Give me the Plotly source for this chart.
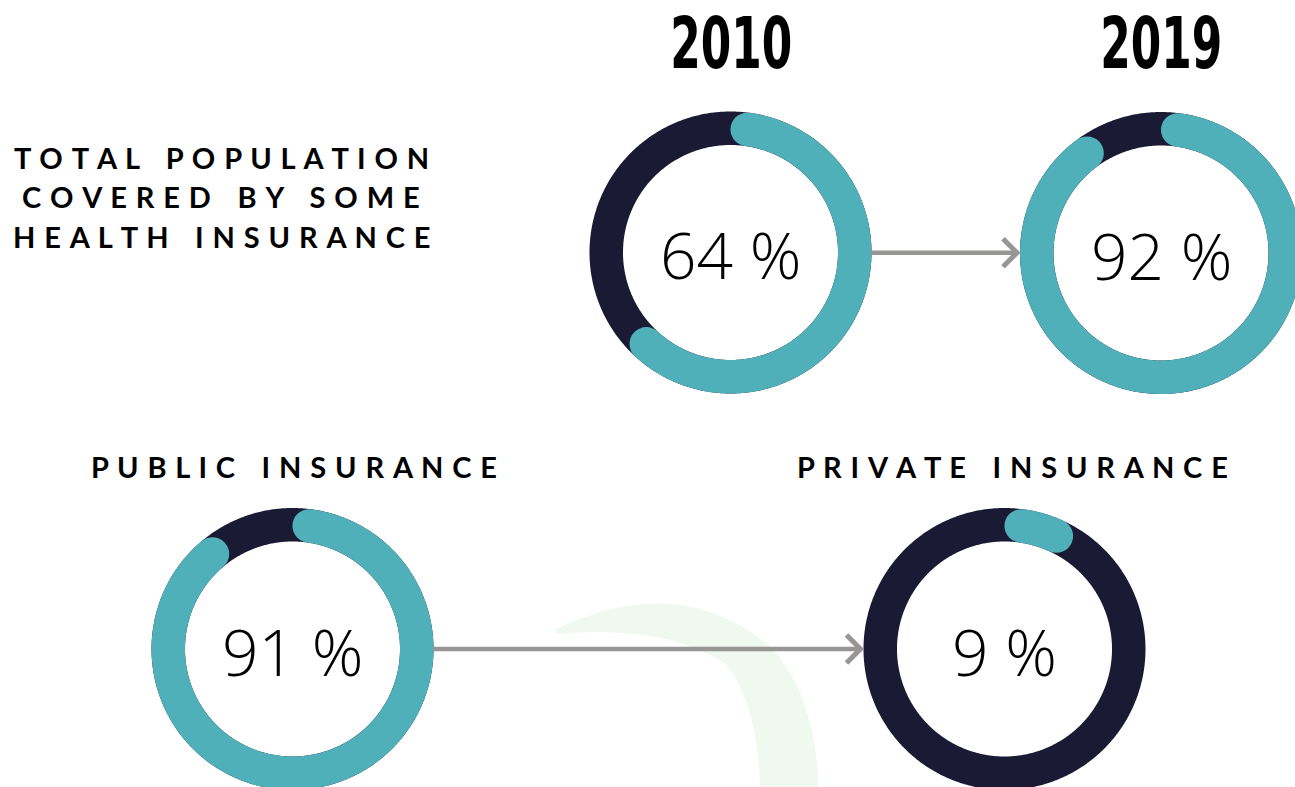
import numpy as np
import plotly.graph_objects as go

# ---------------- data ----------------
donut_names = ["Total 2010", "Total 2019", "Public insurance", "Private insurance"]
percent_values = [64, 92, 91, 9]
year_labels = ["2010", "2019"]
total_title_lines = ["TOTAL POPULATION", "COVERED BY SOME", "HEALTH INSURANCE"]
bottom_titles = ["PUBLIC INSURANCE", "PRIVATE INSURANCE"]

# ---------------- style / layout ----------------
TEAL = "#4fb0b9"
NAVY = "#1a1a35"
GRAY = "#989595"
WM_GREEN = "#eff9ef"
W_PX, H_PX = 1295, 787
centers = [(730.5, 252.5), (1161.0, 253.0), (292.5, 649.0), (1004.5, 649.0)]
R_OUT, R_IN = 141.0, 107.5
R_MID = (R_OUT + R_IN) / 2
RING_W = R_OUT - R_IN
YEAR_TEXT_WIDTH = 122  # condensed look of the headline font

def spaced(text):
    unit = "\u00a0\u200a"
    words = text.split(" ")
    return (unit * 3).join(unit.join(list(w)) for w in words)

fig = go.Figure()

# watermark brush stroke (decoration)
fig.add_shape(type="path",
              path="M 556,629 Q 680,570 772,648 Q 817,700 818,787 L 760,787 "
                   "Q 758,705 726,664 Q 664,624 556,634 Z",
              fillcolor=WM_GREEN, line_width=0, layer="below")

for (cx, cy), p, name in zip(centers, percent_values, donut_names):
    t = np.linspace(0, 2 * np.pi, 721)
    fig.add_trace(go.Scatter(x=cx + R_MID * np.sin(t), y=cy - R_MID * np.cos(t),
                             mode="lines", line=dict(color=NAVY, width=RING_W, simplify=False),
                             hoverinfo="skip", name=name))
    cap = (RING_W / 2) / R_MID
    a = np.linspace(cap, 2 * np.pi * p / 100 - cap, 400)
    xs = cx + R_MID * np.sin(a)
    ys = cy - R_MID * np.cos(a)
    fig.add_trace(go.Scatter(x=xs, y=ys, mode="lines",
                             line=dict(color=TEAL, width=RING_W, simplify=False),
                             hoverinfo="skip", name=name))
    fig.add_trace(go.Scatter(x=[xs[0], xs[-1]], y=[ys[0], ys[-1]], mode="markers",
                             marker=dict(size=RING_W, color=TEAL, line_width=0),
                             hoverinfo="skip", cliponaxis=True, name=name))
    fig.add_annotation(x=cx, y=cy + 2, text=f"{p} %", showarrow=False,
                       xanchor="center", yanchor="middle",
                       font=dict(family="Open Sans", size=64, color="#000000", weight=300))

# arrows
def arrow(c1, c2):
    x0 = c1[0] + R_OUT
    x1 = c2[0] - R_OUT - 3
    y = (c1[1] + c2[1]) / 2
    fig.add_trace(go.Scatter(x=[x0, x1 - 2], y=[y, y], mode="lines",
                             line=dict(color=GRAY, width=4.5), hoverinfo="skip"))
    fig.add_trace(go.Scatter(x=[x1 - 14, x1, x1 - 14], y=[y - 14, y, y + 14], mode="lines",
                             line=dict(color=GRAY, width=5), hoverinfo="skip"))

arrow(centers[0], centers[1])
arrow(centers[2], centers[3])

# year headings
for (cx, _), yr in zip(centers[:2], year_labels):
    fig.add_annotation(x=cx, y=43, text=f"<b>{yr}</b>", showarrow=False,
                       xanchor="center", yanchor="middle",
                       font=dict(family="'DejaVu Sans', sans-serif", size=72, color="#000000"))

# left block title
for i, line in enumerate(total_title_lines):
    fig.add_annotation(x=221, y=157 + i * 39.5, text=spaced(line), showarrow=False,
                       xanchor="center", yanchor="middle",
                       font=dict(family="Lato", size=29, color="#000000", weight=700))

# bottom titles
for title, xc in zip(bottom_titles, [294, 1012]):
    fig.add_annotation(x=xc, y=466, text=spaced(title), showarrow=False,
                       xanchor="center", yanchor="middle",
                       font=dict(family="Lato", size=29, color="#000000", weight=700))

fig.update_layout(
    width=W_PX, height=H_PX,
    margin=dict(l=0, r=0, t=0, b=0),
    paper_bgcolor="white", plot_bgcolor="white",
    showlegend=False,
    xaxis=dict(range=[0, W_PX], visible=False, fixedrange=True),
    yaxis=dict(range=[H_PX, 0], visible=False, fixedrange=True),
)

years_js = ",".join("'" + y + "'" for y in year_labels)
post = """
document.body.style.margin='0';
document.body.style.overflow='hidden';
var yrs=[%s];
document.querySelectorAll('text.annotation-text').forEach(function(el){
  var t=el.textContent.trim();
  if(yrs.indexOf(t)>=0){
    el.style.fontStretch='condensed';
    var bb=el.getBBox();
    var cx=bb.x+bb.width/2;
    var s=%d/bb.width;
    el.setAttribute('transform','translate('+cx+',0) scale('+s+',1) translate('+(-cx)+',0)');
  }
});
""" % (years_js, YEAR_TEXT_WIDTH)

fig.write_html("out.html", post_script=post, config={"displayModeBar": False})
